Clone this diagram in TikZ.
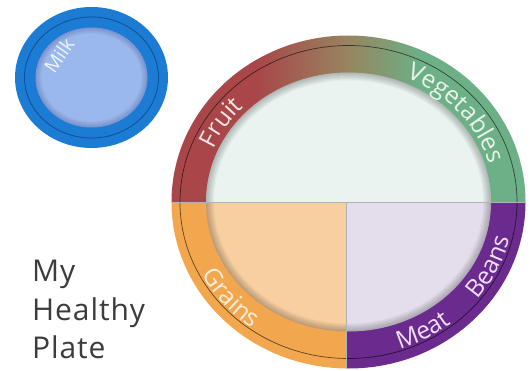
\documentclass[tikz,border=0pt]{standalone}
\usepackage{fontspec}
\setmainfont{Open Sans}
\usetikzlibrary{decorations.text}
\definecolor{fruitred}{HTML}{A94649}
\definecolor{midbrown}{HTML}{978560}
\definecolor{veggreen}{HTML}{6DAF86}
\definecolor{grainorange}{HTML}{F2A74F}
\definecolor{meatpurple}{HTML}{6A2A8E}
\definecolor{mintfill}{HTML}{E9F3F0}
\definecolor{peachfill}{HTML}{F8CFA0}
\definecolor{lavfill}{HTML}{E4DEEC}
\definecolor{milkblue}{HTML}{1C7BD2}
\definecolor{milkline}{HTML}{0F4F9A}
\definecolor{milkinner}{HTML}{9AB8EB}
\definecolor{titlegray}{HTML}{3C3C3C}
\definecolor{fruittext}{HTML}{F6E8E8}
\definecolor{vegtext}{HTML}{E8F4EA}
\definecolor{graintext}{HTML}{FDEEDC}
\definecolor{meattext}{HTML}{F0E0F6}
\definecolor{milktext}{HTML}{EEF4FC}
\pgfdeclarehorizontalshading{fruitveg}{100bp}{color(0bp)=(fruitred); color(37bp)=(fruitred); color(50bp)=(midbrown); color(60bp)=(veggreen); color(100bp)=(veggreen)}
\newcommand\ringfont{\fontsize{24.5}{24.5}\selectfont}
\tikzset{
  ringline/.style={black, opacity=0.6, line width=0.7pt},
  divider/.style={gray!60, line width=0.6pt},
  ringtext/.style={decorate},
  title/.style={font=\fontsize{30}{30}\selectfont\addfontfeature{LetterSpace=3}, text=titlegray, anchor=base west, inner sep=0pt}
}
\begin{document}
\begin{tikzpicture}[x=1pt,y=1pt]
\useasboundingbox (0,0) rectangle (530,370);
\coordinate (pc) at (348.5,168);
\coordinate (mc) at (91.5,292.5);

% ---- Milk ----
\fill[milkblue] (mc) ellipse[x radius=76.5, y radius=70.5];
\draw[milkline, line width=0.8pt] (mc) ellipse[x radius=67, y radius=60.5];
\fill[milkinner] (mc) ellipse[x radius=56, y radius=50];
\begin{scope}
  \clip (mc) ellipse[x radius=56, y radius=50];
  \foreach \w in {2,4,...,12} \draw[line width=\w pt, black!60!blue, opacity=0.03] (mc) ellipse[x radius=56, y radius=50];
\end{scope}
\node[rotate=55, text=milktext, font=\fontsize{19}{19}\selectfont] (milk) at (59,315) {Milk};

% ---- Plate ring ----
\begin{scope}
  \clip (0,168) rectangle (530,370);
  \shade[shading=fruitveg] (pc) ellipse[x radius=177, y radius=166.5];
\end{scope}
\begin{scope}
  \clip (0,0) rectangle (346,168);
  \fill[grainorange] (pc) ellipse[x radius=177, y radius=166.5];
\end{scope}
\begin{scope}
  \clip (346,0) rectangle (530,168);
  \fill[meatpurple] (pc) ellipse[x radius=177, y radius=166.5];
\end{scope}
\draw[ringline] (pc) ellipse[x radius=168.5, y radius=156.5];

% ---- Plate inner ----
\begin{scope}
  \clip (pc) ellipse[x radius=142.5, y radius=129.5];
  \fill[mintfill] (0,168) rectangle (530,370);
  \fill[peachfill] (0,0) rectangle (346,168);
  \fill[lavfill] (346,0) rectangle (530,168);
  \foreach \w in {2,4,...,16} \draw[line width=\w pt, black, opacity=0.03] (pc) ellipse[x radius=142.5, y radius=129.5];
\end{scope}
\draw[divider] (171.5,168) -- (525.5,168);
\draw[divider] (346,168) -- (346,1.5);

% ---- Ring labels ----
\path[ringtext, decoration={text along path, text={|\ringfont|Fruit}, text color=fruittext, text align=left}]
  ([shift={(pc)}]157:147 and 135) arc[start angle=157, end angle=90, x radius=147, y radius=135];
\path[ringtext, decoration={text along path, text={|\ringfont|Vegetables}, text color=vegtext, text align=left}]
  ([shift={(pc)}]67:147 and 135) arc[start angle=67, end angle=-10, x radius=147, y radius=135];
\path[ringtext, decoration={text along path, text={|\ringfont|Grains}, text color=graintext, text align=left}]
  ([shift={(pc)}]208:166 and 155) arc[start angle=208, end angle=270, x radius=166, y radius=155];
\path[ringtext, decoration={text along path, text={|\ringfont|Meat}, text color=meattext, text align=left}]
  ([shift={(pc)}]-72:166 and 155) arc[start angle=-72, end angle=-30, x radius=166, y radius=155];
\path[ringtext, decoration={text along path, text={|\ringfont|Beans}, text color=meattext, text align=left}]
  ([shift={(pc)}]-39:166 and 155) arc[start angle=-39, end angle=10, x radius=166, y radius=155];

% ---- Title ----
\node[title] (t1) at (32,88.3) {My};
\node[title] (t2) at (32,50) {Healthy};
\node[title] (t3) at (32,12) {Plate};
\end{tikzpicture}
\end{document}
